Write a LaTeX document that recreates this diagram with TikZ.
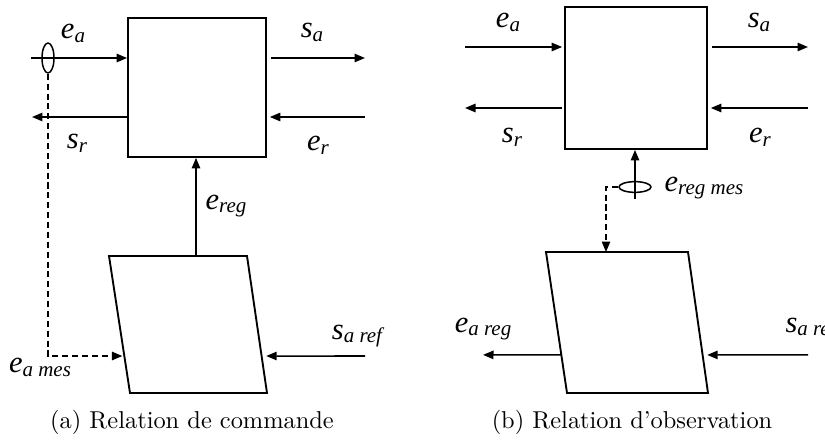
\documentclass[tikz,border=0pt]{standalone}
\usepackage{fontspec}
\newfontfamily\labfont{Liberation Serif}
\usetikzlibrary{arrows.meta, shapes.geometric, calc}

\newcommand\sig[2]{{\labfont\itshape #1\raisebox{-1.6pt}{\fontsize{8.6}{9}\selectfont #2}}}

\begin{document}
\begin{tikzpicture}[x=0.0144cm, y=-0.0144cm,
    every node/.style={inner sep=0pt},
    lab/.style={font=\fontsize{12.5}{14}\selectfont},
    captxt/.style={font=\normalsize},
    arr/.style={-{Triangle[length=4.3pt, width=3.45pt]}, line width=0.62pt},
    dsh/.style={arr, dash pattern=on 2.5pt off 1.55pt},
    blk/.style={rectangle, draw, line width=0.77pt,
                minimum width=1.987cm, minimum height=2.0cm},
    para/.style={line width=0.77pt, line join=miter},
    tap/.style={ellipse, draw, line width=0.62pt},
]
\useasboundingbox (0,0) rectangle (825,442);

% ---------------- panel a: commande
\node[blk] (boxA) at (197,87.5) {};
\coordinate (eaA) at (31,58);
\coordinate (saA) at (365,58);
\coordinate (srA) at (32,117);
\coordinate (erA) at (365,117);
\draw[arr] (eaA) -- (eaA -| boxA.west);
\draw[arr, shorten <=1.6pt] (saA -| boxA.east) -- (saA);
\draw[arr] (srA -| boxA.west) -- (srA);
\draw[arr, shorten >=1.2pt] (erA) -- (erA -| boxA.east);

\coordinate (pA1) at (109,256);
\coordinate (pA2) at (247,256);
\coordinate (pA3) at (267,393);
\coordinate (pA4) at (130,393);
\draw[para] (pA1) -- (pA2) -- (pA3) -- (pA4) -- cycle;
\coordinate (pAtop) at (196,256);
\coordinate (pAin) at ($(pA1)!0.73!(pA4)$);
\coordinate (pAref) at ($(pA2)!0.73!(pA3)$);
\coordinate (sarefA) at (365,356);

\draw[arr] (pAtop) -- (pAtop |- boxA.south);
\draw[arr, shorten >=1.9pt] (sarefA) -- (pAref);
\node[tap, minimum width=0.173cm, minimum height=0.432cm] (tapA) at (48,58) {};
\draw[dsh, shorten >=0.8pt] (tapA.south) |- (pAin);

\node[lab] (lEaA) at (73,33) {\sig{e}{a}};
\node[lab] (lSaA) at (312,32) {\sig{s}{a}};
\node[lab] (lSrA) at (77,143) {\sig{s}{r}};
\node[lab] (lErA) at (318,145) {\sig{e}{r}};
\node[lab] (lRegA) at (226,206) {\sig{e}{reg}};
\node[lab] (lRefA) at (357,336) {\sig{s}{a ref}};
\node[lab] (lMesA) at (40,367) {\sig{e}{a mes}};
\node[captxt] (capA) at (192,422) {(a) Relation de commande};

% ---------------- panel b: observation
\node[blk, minimum width=2.045cm, minimum height=2.045cm] (boxB) at (636,78) {};
\coordinate (eaB) at (465,47);
\coordinate (saB) at (808,47);
\coordinate (srB) at (465,108);
\coordinate (erB) at (808,108);
\draw[arr, shorten >=0.8pt] (eaB) -- (eaB -| boxB.west);
\draw[arr, shorten <=1.6pt] (saB -| boxB.east) -- (saB);
\draw[arr, shorten <=0.8pt] (srB -| boxB.west) -- (srB);
\draw[arr, shorten >=1.2pt] (erB) -- (erB -| boxB.east);

\coordinate (pB1) at (546,252);
\coordinate (pB2) at (688,252);
\coordinate (pB3) at (708,393);
\coordinate (pB4) at (567,393);
\draw[para] (pB1) -- (pB2) -- (pB3) -- (pB4) -- cycle;
\coordinate (pBtop) at (606,252);
\coordinate (pBout) at ($(pB1)!0.73!(pB4)$);
\coordinate (pBref) at ($(pB2)!0.73!(pB3)$);
\coordinate (eaoutB) at (483,354.9);
\coordinate (sarefB) at (808,354.9);
\coordinate (eregB) at (635,199);

\draw[arr] (eregB) -- (eregB |- boxB.south);
\node[tap, minimum width=0.461cm, minimum height=0.154cm] (tapB) at (635,187) {};
\draw[dsh] (tapB.west) -| (pBtop);
\draw[arr] (pBout) -- (eaoutB);
\draw[arr, shorten >=1.9pt] (sarefB) -- (pBref);

\node[lab] (lEaB) at (508,22) {\sig{e}{a}};
\node[lab] (lSaB) at (759,22) {\sig{s}{a}};
\node[lab] (lSrB) at (512,137) {\sig{s}{r}};
\node[lab] (lErB) at (760,137) {\sig{e}{r}};
\node[lab] (lMesB) at (704,188) {\sig{e}{reg mes}};
\node[lab] (lRegB) at (483,329) {\sig{e}{a reg}};
\node[lab, anchor=west] (lRefB) at (785,329) {\sig{s}{a ref}};
\node[captxt] (capB) at (632,422) {(b) Relation d'observation};
\end{tikzpicture}
\end{document}
